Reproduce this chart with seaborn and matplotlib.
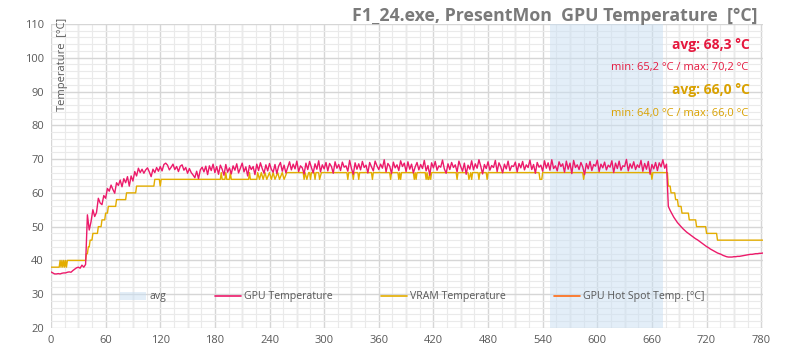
import numpy as np
import pandas as pd
import seaborn as sns
import matplotlib.pyplot as plt
from matplotlib.lines import Line2D
from matplotlib.patches import Patch
from matplotlib.ticker import MultipleLocator

# GPU temperature, one reading every 2 s from t=0
gpu_step = 2
gpu_temp = [
    36.6, 36.3, 36.0, 36.0, 36.1, 36.0, 36.2, 36.3, 36.3, 36.5,
    36.6, 36.5, 37.0, 37.4, 37.8, 38.0, 37.7, 38.6, 38.0, 38.8,
    53.5, 49.0, 51.5, 55.0, 53.0, 54.2, 58.4, 57.0, 56.5, 59.2,
    58.4, 61.3, 60.5, 62.3, 61.0, 59.9, 63.0, 62.2, 63.8, 61.8,
    64.2, 63.0, 64.8, 62.0, 65.0, 63.5, 66.3, 65.0, 67.3, 66.0,
    67.0, 65.8, 66.8, 67.4, 66.2, 64.8, 67.0, 66.0, 67.5, 66.4,
    67.8, 66.5, 68.4, 68.8, 68.2, 66.8, 67.6, 68.5, 66.9, 67.8,
    66.3, 67.9, 68.3, 66.7, 67.5, 65.8, 67.2, 66.0, 65.3, 64.5,
    66.4, 64.2, 66.8, 67.6, 66.2, 67.9, 65.4, 68.0, 66.6, 68.5,
    66.0, 67.8, 65.5, 68.2, 67.0, 65.2, 68.4, 66.1, 67.4, 65.6,
    68.0, 66.7, 68.6, 65.9, 67.3, 68.8, 66.2, 67.7, 65.0, 68.1,
    66.9, 67.8, 65.4, 68.5, 66.6, 68.9, 67.2, 65.8, 68.3, 66.5,
    68.7, 67.0, 66.1, 68.4, 65.7, 67.9, 69.0, 66.4, 68.2, 65.9,
    67.6, 69.2, 66.8, 68.5, 67.1, 69.4, 66.3, 68.0, 67.4, 65.6,
    68.8, 66.9, 69.3, 67.5, 65.9, 68.6, 67.0, 69.5, 66.2, 68.3,
    67.1, 69.0, 66.5, 68.7, 67.8, 65.8, 69.2, 67.3, 68.4, 66.6,
    69.1, 67.6, 68.0, 66.4, 69.6, 67.2, 65.5, 68.9, 67.0, 68.6,
    66.8, 69.3, 67.5, 68.2, 65.9, 69.0, 67.7, 66.5, 69.4, 68.0,
    66.9, 68.5, 67.3, 69.8, 66.2, 68.7, 67.9, 65.7, 69.1, 67.4,
    68.3, 66.6, 69.5, 67.8, 68.8, 66.3, 69.2, 67.0, 68.5, 65.9,
    67.7, 69.0, 66.8, 68.4, 67.2, 69.6, 66.5, 68.1, 65.2, 68.9,
    67.4, 69.3, 66.7, 68.0, 67.6, 69.7, 67.1, 65.8, 68.6, 66.9,
    69.0, 67.5, 68.3, 66.2, 69.4, 67.8, 66.4, 68.8, 65.5, 68.2,
    67.0, 69.5, 66.8, 68.6, 67.3, 69.8, 67.9, 65.6, 68.4, 67.2,
    69.2, 66.7, 68.1, 67.5, 69.6, 66.3, 68.9, 67.7, 65.9, 68.5,
    67.1, 69.4, 66.6, 68.0, 67.8, 69.1, 66.2, 68.7, 67.4, 69.3,
    66.8, 68.3, 67.5, 69.7, 66.9, 68.4, 65.8, 69.0, 67.6, 68.2,
    66.4, 69.5, 67.3, 68.9, 66.7, 69.8, 67.2, 68.0, 66.5, 69.2,
    67.8, 68.6, 66.1, 69.4, 67.0, 68.8, 65.7, 69.6, 67.5, 68.3,
    66.9, 69.0, 67.7, 65.4, 68.7, 67.1, 69.3, 66.6, 68.4, 67.9,
    69.7, 66.3, 68.5, 67.4, 69.1, 66.8, 68.2, 67.6, 69.5, 66.0,
    68.8, 67.2, 69.4, 66.7, 68.0, 67.8, 69.9, 66.5, 68.6, 67.3,
    69.2, 66.9, 68.3, 67.5, 69.6, 66.4, 68.7, 67.0, 69.3, 65.5,
    68.4, 67.1, 69.0, 66.6, 68.9, 67.7, 69.8, 67.3, 68.5, 56.0,
    54.8, 53.8, 52.8, 52.0, 51.2, 50.6, 50.0, 49.4, 48.9, 48.4,
    48.0, 47.6, 47.2, 46.8, 46.4, 46.1, 45.7, 45.3, 44.9, 44.5,
    44.1, 43.8, 43.4, 43.1, 42.8, 42.5, 42.2, 42.0, 41.8, 41.5,
    41.3, 41.1, 41.0, 41.0, 41.0, 41.1, 41.1, 41.2, 41.2, 41.3,
    41.4, 41.5, 41.6, 41.7, 41.8, 41.8, 41.9, 42.0, 42.0, 42.1,
    42.1, 42.2,
]

# VRAM temperature, readings kept only where the value changes (time [s])
vram_time = [
    0, 9, 10, 11, 12, 13, 14, 15, 16, 17, 18, 38, 39, 40, 41, 42, 43, 45, 46, 51,
    52, 55, 56, 59, 60, 62, 63, 71, 72, 82, 83, 93, 94, 113, 114, 119, 120, 121,
    186, 187, 188, 191, 192, 193, 196, 197, 198, 217, 218, 219,
    226, 227, 229, 231, 233, 235, 237, 240, 242, 244, 246, 249, 251, 254, 256,
    259, 277, 278, 279, 281, 283, 284, 285, 286, 289, 290, 291, 294, 295, 297,
    325, 326, 327, 331, 332, 333, 337, 338, 339, 352, 353, 354, 372, 373, 374,
    381, 382, 383, 384, 385, 398, 399, 400, 401, 402, 411, 412, 413, 414, 415,
    416, 417, 418, 445, 446, 447, 458, 459, 461, 462, 463, 469, 470, 471,
    478, 479, 480, 536, 537, 539, 540, 584, 585, 586, 659, 660, 661,
    677, 678, 680, 681, 685, 686, 688, 689, 692, 693, 700, 701, 708, 709,
    719, 720, 731, 732, 782,
]
vram_temp = [
    38, 38, 40, 38, 40, 38, 40, 38, 40, 38, 40, 40, 42, 42, 44, 44, 46, 46, 48, 48,
    50, 50, 52, 52, 54, 54, 56, 56, 58, 58, 60, 60, 62, 62, 64, 64, 62, 64,
    64, 66, 64, 64, 66, 64, 64, 66, 64, 64, 66, 64,
    64, 66, 64, 66, 64, 66, 64, 66, 64, 66, 64, 66, 64, 66, 64,
    66, 66, 64, 66, 64, 66, 66, 64, 66, 66, 64, 66, 66, 64, 66,
    66, 64, 66, 66, 64, 66, 66, 64, 66, 66, 64, 66, 66, 64, 66,
    66, 64, 66, 64, 66, 66, 64, 66, 64, 66, 66, 64, 66, 64, 64,
    66, 64, 66, 66, 64, 66, 66, 64, 66, 64, 66, 66, 64, 66,
    66, 64, 66, 66, 64, 64, 66, 66, 64, 66, 66, 64, 66,
    66, 62, 62, 60, 60, 58, 58, 56, 56, 54, 54, 52, 52, 50,
    50, 48, 48, 46, 46,
]

# marked 'avg' window
avg_start, avg_end = 548, 672

gpu_stats = ["avg: 68,3 °C", "min: 65,2 °C / max: 70,2 °C"]
vram_stats = ["avg: 66,0 °C", "min: 64,0 °C / max: 66,0 °C"]
title = "F1_24.exe, PresentMon  GPU Temperature  [°C]"

c_gpu = "#ec1a6a"
c_vram = "#e3ad00"
c_hot = "#ff6a13"
c_gpu_txt = "#e5193f"
c_vram_txt = "#d9a100"
c_avg = "#c9dff2"
grey = "#7a7a7a"

gpu = pd.DataFrame({"t": np.arange(len(gpu_temp)) * gpu_step, "v": gpu_temp})
vram = pd.DataFrame({"t": vram_time, "v": vram_temp})

sns.set_theme(style="white")
plt.rcParams["font.family"] = ["Open Sans", "DejaVu Sans"]

fig = plt.figure(figsize=(7.88, 3.56), dpi=100)
ax = fig.add_axes([0.0647, 0.0787, 0.9036, 0.854])

ax.axvspan(avg_start, avg_end, color=c_avg, alpha=0.5, lw=0, zorder=1)
sns.lineplot(data=gpu, x="t", y="v", ax=ax, color=c_gpu, lw=1.0, zorder=3)
sns.lineplot(data=vram, x="t", y="v", ax=ax, color=c_vram, lw=1.0, zorder=2)

ax.set_xlim(0, 782)
ax.set_ylim(20, 110)
ax.xaxis.set_major_locator(MultipleLocator(60))
ax.xaxis.set_minor_locator(MultipleLocator(15))
ax.yaxis.set_major_locator(MultipleLocator(10))
ax.yaxis.set_minor_locator(MultipleLocator(2))
ax.set_axisbelow(True)
ax.grid(which="minor", color="#eaeaea", lw=0.8)
ax.grid(which="major", axis="y", color="#d6d6d6", lw=1.0)
for xv in np.arange(0, 783, 30):
    ax.axvline(xv, color="#d6d6d6", lw=1.0, zorder=0)
for s in ax.spines.values():
    s.set_visible(False)
ax.tick_params(which="both", length=0, labelsize=8, colors="#595959", pad=5)
ax.set_xlabel("")
ax.set_ylabel("")

ax.text(0.0155, 1.02, "Temperature  [°C]", transform=ax.transAxes, rotation=90,
        ha="center", va="top", fontsize=8, color="#595959")

fig.text(0.961, 0.955, title, ha="right", va="center", fontsize=12.8,
         fontweight="bold", color=grey)

ax.text(0.981, 0.931, gpu_stats[0], transform=ax.transAxes, ha="right",
        va="center", fontsize=10, fontweight="bold", color=c_gpu_txt)
ax.text(0.979, 0.857, gpu_stats[1], transform=ax.transAxes, ha="right",
        va="center", fontsize=8, color=c_gpu_txt)
ax.text(0.981, 0.783, vram_stats[0], transform=ax.transAxes, ha="right",
        va="center", fontsize=10, fontweight="bold", color=c_vram_txt)
ax.text(0.979, 0.707, vram_stats[1], transform=ax.transAxes, ha="right",
        va="center", fontsize=8, color=c_vram_txt)

handles = [
    Patch(facecolor=c_avg, alpha=0.5, edgecolor="none"),
    Line2D([], [], color=c_gpu, lw=1.2),
    Line2D([], [], color=c_vram, lw=1.2),
    Line2D([], [], color=c_hot, lw=1.2),
]
labels = ["avg", "GPU Temperature", "VRAM Temperature", "GPU Hot Spot Temp. [°C]"]
leg = ax.legend(handles, labels, loc="center", bbox_to_anchor=(0.508, 0.102),
                ncol=4, frameon=False, fontsize=7.6, handlelength=2.45,
                handleheight=0.8, handletextpad=0.3, columnspacing=4.6)
for t in leg.get_texts():
    t.set_color("#595959")

fig.savefig("out.png", dpi=100)
